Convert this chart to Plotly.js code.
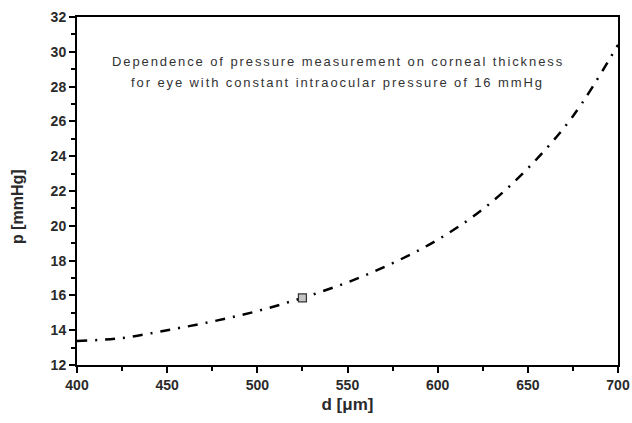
<!DOCTYPE html>
<html>
<head>
<meta charset="utf-8">
<script src="https://cdn.plot.ly/plotly-3.0.1.min.js"></script>
<style>
html,body{margin:0;padding:0;background:#fff;}
#chart{width:632px;height:423px;}
.annotation-text{letter-spacing:1.9px;}
</style>
</head>
<body>
<div id="chart"></div>
<script>
// Corneal thickness d [µm] vs measured pressure p [mmHg]
var thickness = [400, 425, 450, 475, 500, 525, 550, 575, 600, 625, 650, 675, 700];
var pressure  = [13.38, 13.55, 14.0, 14.5, 15.1, 15.86, 16.75, 17.85, 19.2, 20.95, 23.3, 26.3, 30.4];
var markerD = [525];
var markerP = [15.86];
var xTicks = [400, 450, 500, 550, 600, 650, 700];
var yTicks = [12, 14, 16, 18, 20, 22, 24, 26, 28, 30, 32];
var noteLines = ["Dependence of pressure measurement on corneal thickness",
                 "for eye with constant intraocular pressure of 16 mmHg"];
var yLabel = "p [mmHg]";
var xLabel = "d [μm]";

var traces = [
  {x: thickness, y: pressure, mode: 'lines', type: 'scatter',
   line: {color: '#000', width: 2.5, dash: '10px,8px,2px,8px', shape: 'spline', smoothing: 1},
   hoverinfo: 'none'},
  {x: markerD, y: markerP, mode: 'markers', type: 'scatter',
   marker: {symbol: 'square', size: 8, color: '#c4c4c4', line: {color: '#333', width: 1.2}},
   hoverinfo: 'none'}
];

var fam = 'Liberation Sans, Arial, sans-serif';
var tickFont = {family: fam, size: 14, color: '#2a2a2a', weight: 'bold'};
var layout = {
  width: 632, height: 423,
  margin: {l: 77, r: 14, t: 17, b: 58},
  showlegend: false,
  paper_bgcolor: '#fff', plot_bgcolor: '#fff',
  xaxis: {
    range: [400, 700], tickvals: xTicks, ticktext: xTicks.map(String),
    ticks: 'outside', ticklen: 6, tickwidth: 2, tickcolor: '#000',
    minor: {dtick: 25, tick0: 400, ticks: 'outside', ticklen: 4, tickwidth: 2, tickcolor: '#000'},
    showline: true, linewidth: 2, linecolor: '#000', mirror: true,
    showgrid: false, zeroline: false, tickfont: tickFont,
    title: {text: '<b>' + xLabel + '</b>', font: {family: fam, size: 17, color: '#2a2a2a'}, standoff: 6}
  },
  yaxis: {
    range: [12, 32], tickvals: yTicks, ticktext: yTicks.map(String),
    ticks: 'outside', ticklen: 6, tickwidth: 2, tickcolor: '#000',
    minor: {dtick: 1, tick0: 12, ticks: 'outside', ticklen: 4, tickwidth: 2, tickcolor: '#000'},
    showline: true, linewidth: 2, linecolor: '#000', mirror: true,
    showgrid: false, zeroline: false, tickfont: tickFont
  },
  annotations: [
    {xref: 'paper', yref: 'paper', x: 0.482, y: 0.871, xanchor: 'center', yanchor: 'middle',
     text: noteLines[0], showarrow: false,
     font: {family: fam, size: 13, color: '#333'}},
    {xref: 'paper', yref: 'paper', x: 0.482, y: 0.813, xanchor: 'center', yanchor: 'middle',
     text: noteLines[1], showarrow: false,
     font: {family: fam, size: 13, color: '#333'}},
    {xref: 'paper', yref: 'paper', x: -0.109, y: 0.455, xanchor: 'center', yanchor: 'middle',
     text: '<b>' + yLabel + '</b>', textangle: -90, showarrow: false,
     font: {family: fam, size: 16, color: '#2a2a2a'}}
  ]
};

Plotly.newPlot('chart', traces, layout, {staticPlot: true, displayModeBar: false}).then(function(){
  // axis-title annotation should not get the wide letter spacing of the note
  var ann = document.querySelectorAll('.annotation-text');
  if (ann.length > 2) ann[2].style.letterSpacing = '0px';
});
</script>
</body>
</html>
